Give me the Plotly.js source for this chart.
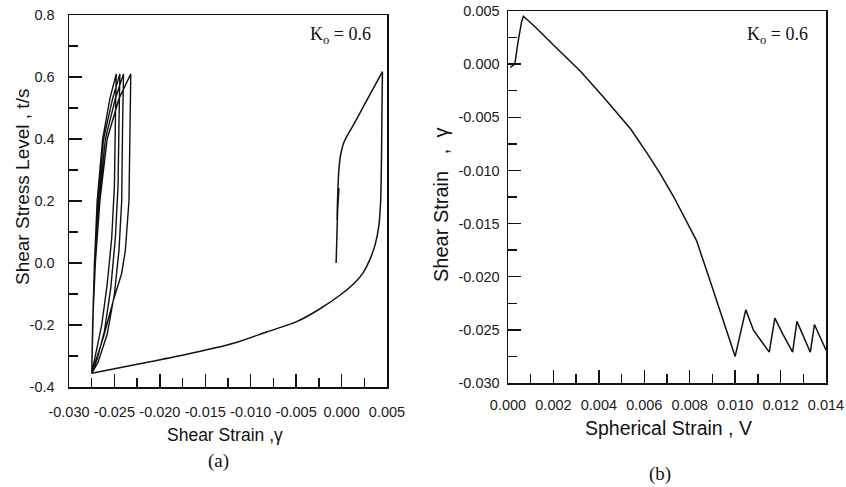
<!DOCTYPE html>
<html>
<head>
<meta charset="utf-8">
<script src="https://cdn.plot.ly/plotly-3.0.1.min.js"></script>
<style>html,body{margin:0;padding:0;background:#fff;}#chart{width:846px;height:487px;}</style>
</head>
<body>
<div id="chart"></div>
<script>
// ---- Panel (a): shear stress level vs shear strain ----
const strainInitial = [-0.0006, -0.0005, -0.0004, -0.0003, -0.0005, -0.0004, -0.0003, -0.0001, 0.0002, 0.0006, 0.0013, 0.0028, 0.0045];
const stressInitial = [0.00, 0.10, 0.20, 0.24, 0.14, 0.24, 0.30, 0.35, 0.385, 0.41, 0.445, 0.526, 0.617];

const strainUnload = [0.0045, 0.00445, 0.0044, 0.0043, 0.0041, 0.0037, 0.0031, 0.0024, 0.0015, 0.0000, -0.0025, -0.0050, -0.0082, -0.0119, -0.0174, -0.0229, -0.0275];
const stressUnload = [0.617, 0.50, 0.35, 0.20, 0.12, 0.06, 0.01, -0.03, -0.062, -0.10, -0.15, -0.19, -0.222, -0.259, -0.297, -0.329, -0.356];

const strainCycles = [
  -0.0275, -0.0274, -0.0272, -0.0269, -0.0263, -0.0255, -0.0248,
  -0.0249, -0.0250, -0.0253, -0.0258, -0.0264, -0.0270, -0.0275,
  -0.0274, -0.0272, -0.0268, -0.0262, -0.0252, -0.0244,
  -0.0245, -0.0246, -0.0249, -0.0254, -0.0261, -0.0269, -0.0275,
  -0.0274, -0.0272, -0.0267, -0.0260, -0.0249, -0.0240,
  -0.0241, -0.0242, -0.0245, -0.0250, -0.0258, -0.0268, -0.0275,
  -0.0274, -0.0271, -0.0266, -0.0258, -0.0245, -0.0232,
  -0.0233, -0.0234, -0.0238, -0.0242, -0.0251, -0.0262, -0.0275
];
const stressCycles = [
  -0.356, -0.20, 0.00, 0.20, 0.40, 0.53, 0.61,
  0.45, 0.25, 0.08, -0.07, -0.20, -0.29, -0.356,
  -0.20, 0.00, 0.20, 0.40, 0.53, 0.61,
  0.45, 0.25, 0.08, -0.08, -0.22, -0.31, -0.356,
  -0.20, 0.00, 0.20, 0.40, 0.53, 0.61,
  0.45, 0.20, 0.04, -0.10, -0.23, -0.32, -0.356,
  -0.20, 0.00, 0.20, 0.40, 0.53, 0.61,
  0.45, 0.20, 0.04, -0.033, -0.119, -0.238, -0.356
];

// ---- Panel (b): shear strain vs spherical strain ----
const sphericalStrain = [0.0001, 0.0003, 0.00045, 0.0006, 0.00068, 0.0012, 0.0020, 0.0032, 0.0042, 0.0054, 0.0061, 0.0067, 0.0073, 0.0083, 0.0089, 0.0100, 0.01047, 0.0108, 0.0115, 0.01175, 0.0121, 0.01253, 0.01272, 0.0130, 0.01331, 0.01349, 0.0140];
const shearStrainB = [-0.0003, 0.0000, 0.0022, 0.0040, 0.0045, 0.0035, 0.0018, -0.0007, -0.0031, -0.0061, -0.0083, -0.0103, -0.0125, -0.0166, -0.0204, -0.0275, -0.0231, -0.0250, -0.0271, -0.0239, -0.0254, -0.0271, -0.0242, -0.0256, -0.0271, -0.0245, -0.0269];

// ---- Tick labels ----
const tickValsXA = [-0.030, -0.025, -0.020, -0.015, -0.010, -0.005, 0.000, 0.005];
const tickTextXA = ["-0.030", "-0.025", "-0.020", "-0.015", "-0.010", "-0.005", "0.000", "0.005"];
const tickValsYA = [-0.4, -0.2, 0.0, 0.2, 0.4, 0.6, 0.8];
const tickTextYA = ["-0.4", "-0.2", "0.0", "0.2", "0.4", "0.6", "0.8"];
const tickValsXB = [0.000, 0.002, 0.004, 0.006, 0.008, 0.010, 0.012, 0.014];
const tickTextXB = ["0.000", "0.002", "0.004", "0.006", "0.008", "0.010", "0.012", "0.014"];
const tickValsYB = [-0.030, -0.025, -0.020, -0.015, -0.010, -0.005, 0.000, 0.005];
const tickTextYB = ["-0.030", "-0.025", "-0.020", "-0.015", "-0.010", "-0.005", "0.000", "0.005"];

const W = 846, H = 487;
const px = v => v / W;
const py = v => 1 - v / H;

const traces = [
  {x: strainInitial, y: stressInitial, mode: 'lines', line: {color: '#111', width: 1.5, shape: 'spline', smoothing: 0.6}, xaxis: 'x', yaxis: 'y', hoverinfo: 'skip'},
  {x: strainUnload, y: stressUnload, mode: 'lines', line: {color: '#111', width: 1.5, shape: 'spline', smoothing: 0.7}, xaxis: 'x', yaxis: 'y', hoverinfo: 'skip'},
  {x: strainCycles, y: stressCycles, mode: 'lines', line: {color: '#111', width: 1.4}, xaxis: 'x', yaxis: 'y', hoverinfo: 'skip'},
  {x: sphericalStrain, y: shearStrainB, mode: 'lines', line: {color: '#111', width: 1.5}, xaxis: 'x2', yaxis: 'y2', hoverinfo: 'skip'}
];

const tickFont = {family: 'Liberation Sans, Arial, sans-serif', size: 14.5, color: '#1a1a1a'};
function axis(extra) {
  return Object.assign({
    showline: true, mirror: true, linecolor: '#111', linewidth: 1.5,
    showgrid: false, zeroline: false,
    ticks: 'inside', ticklen: 13, tickwidth: 1.5, tickcolor: '#111',
    tickmode: 'array', tickfont: tickFont, automargin: false, fixedrange: true
  }, extra);
}

const serif = 'Liberation Serif, Times New Roman, serif';
const sans = 'Liberation Sans, Arial, sans-serif';
const ann = (x, y, text, size, family, angle) => ({
  xref: 'paper', yref: 'paper', x: px(x), y: py(y), text: text, showarrow: false,
  xanchor: 'center', yanchor: 'middle', textangle: angle || 0,
  font: {family: family, size: size, color: '#111'}
});

const layout = {
  width: W, height: H,
  margin: {l: 0, r: 0, t: 0, b: 0},
  paper_bgcolor: '#fff', plot_bgcolor: '#fff',
  showlegend: false,
  xaxis: axis({domain: [px(69), px(387)], range: [-0.030, 0.005], anchor: 'y',
    tickvals: tickValsXA, ticktext: tickTextXA, ticklabelstandoff: 11,
    minor: {tickmode: 'linear', tick0: -0.030, dtick: 0.0025, ticks: 'inside', ticklen: 9, tickwidth: 1.5, tickcolor: '#111'}}),
  yaxis: axis({domain: [py(387), py(15)], range: [-0.4, 0.8], anchor: 'x',
    tickvals: tickValsYA, ticktext: tickTextYA, ticklabelstandoff: 10,
    minor: {tickmode: 'linear', tick0: -0.4, dtick: 0.1, ticks: 'inside', ticklen: 9, tickwidth: 1.5, tickcolor: '#111'}}),
  xaxis2: axis({domain: [px(508), px(826)], range: [0, 0.014], anchor: 'y2',
    tickvals: tickValsXB, ticktext: tickTextXB, ticklabelstandoff: 8,
    minor: {tickmode: 'linear', tick0: 0, dtick: 0.001, ticks: 'inside', ticklen: 9, tickwidth: 1.5, tickcolor: '#111'}}),
  yaxis2: axis({domain: [py(383), py(11)], range: [-0.030, 0.005], anchor: 'x2',
    tickvals: tickValsYB, ticktext: tickTextYB, ticklabelstandoff: 4,
    minor: {tickmode: 'linear', tick0: -0.030, dtick: 0.0025, ticks: 'inside', ticklen: 9, tickwidth: 1.5, tickcolor: '#111'}}),
  annotations: [
    ann(22, 187, 'Shear Stress Level , t/s', 19, sans, -90),
    ann(225, 435, 'Shear Strain ,γ', 17.5, sans),
    ann(218, 461, '(a)', 19, serif),
    ann(340, 35, 'K<sub>o</sub> = 0.6', 18, serif),
    ann(441, 205, 'Shear Strain\u00A0\u00A0\u00A0,\u00A0\u00A0γ', 20, sans, -90),
    ann(668, 428, 'Spherical Strain , V', 19.5, sans),
    ann(660, 474, '(b)', 19, serif),
    ann(777, 36, 'K<sub>o</sub> = 0.6', 18, serif)
  ]
};

Plotly.newPlot('chart', traces, layout, {staticPlot: true, displayModeBar: false});
</script>
</body>
</html>
